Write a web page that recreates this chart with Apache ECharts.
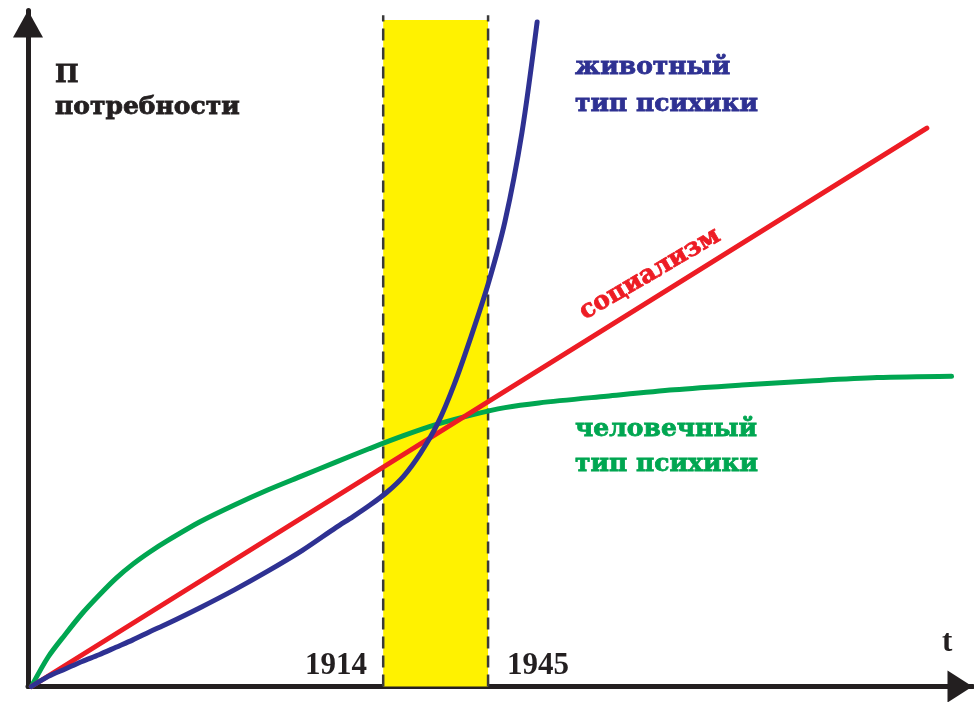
<!DOCTYPE html>
<html>
<head>
<meta charset="utf-8">
<script src="https://cdn.jsdelivr.net/npm/echarts@6/dist/echarts.min.js"></script>
<style>
html,body{margin:0;padding:0;background:#fff;}
#chart{width:974px;height:702px;}
</style>
</head>
<body>
<div id="chart"></div>
<script>
// Years (x) and need level (y, arbitrary units)
const redX = [1810, 2074.7];
const redY = [0, 82.6];

const blueX = [1810, 1815, 1820, 1825, 1830, 1835, 1840, 1845, 1850, 1860, 1870, 1880, 1890, 1900, 1905, 1910, 1915, 1920, 1925, 1930, 1935, 1940, 1945, 1950, 1955, 1959.5];
const blueY = [0, 1.5, 2.6, 3.7, 4.7, 5.8, 6.9, 8.1, 9.25, 11.7, 14.3, 17.1, 20.1, 23.5, 25.1, 26.8, 28.7, 31.1, 34.5, 38.8, 44.7, 51.8, 59.5, 68.8, 81.9, 98.3];

const greenX = [1810, 1815, 1820, 1825, 1830, 1835, 1840, 1845, 1850, 1860, 1870, 1880, 1890, 1900, 1910, 1920, 1930, 1940, 1950, 1960, 1980, 2000, 2020, 2040, 2060, 2082];
const greenY = [0, 4.4, 7.7, 10.8, 13.5, 16.0, 18.1, 19.9, 21.5, 24.4, 26.85, 29.1, 31.15, 33.2, 35.2, 37.1, 38.8, 40.15, 41.25, 41.95, 42.95, 43.9, 44.6, 45.2, 45.7, 45.9];

const periodStart = 1914;
const periodEnd = 1945;
const bandBottom = 0;
const bandTop = 98.6;
const dashTop = 99.3;

const yearLabels = ['1914', '1945'];

const zip = (xs, ys) => xs.map((x, i) => [x, ys[i]]);

const chart = echarts.init(document.getElementById('chart'), null, {renderer: 'canvas'});

const wordFont = 'bold 25px "DejaVu Serif"';
const numFont = 'bold 31px "Liberation Serif"';

function dashSeries(x) {
  return {
    type: 'line', z: 2, clip: false, silent: true, showSymbol: false,
    data: [[x, bandBottom], [x, dashTop]],
    lineStyle: {color: '#3a3a3a', width: 2.5, type: [12, 7]}
  };
}

function word(text, x, y, color) {
  return {type: 'text', z: 10, style: {text: text, x: x, y: y, font: wordFont, fill: color,
    stroke: color, lineWidth: 0.8, verticalAlign: 'middle'}};
}

const option = {
  animation: false,
  backgroundColor: '#ffffff',
  grid: {left: 28, right: 1.5, top: 10.5, bottom: 15.5, containLabel: false},
  xAxis: {
    type: 'value', min: 1809, max: 2088.2,
    axisLine: {show: true, lineStyle: {color: '#231f20', width: 5},
      symbol: ['none', 'triangle'], symbolSize: [32, 25], symbolOffset: [0, -12.5]},
    axisTick: {show: false}, axisLabel: {show: false}, splitLine: {show: false}
  },
  yAxis: {
    type: 'value', min: 0, max: 100,
    axisLine: {show: true, lineStyle: {color: '#231f20', width: 5},
      symbol: ['none', 'triangle'], symbolSize: [30, 27], symbolOffset: [0, -13.5]},
    axisTick: {show: false}, axisLabel: {show: false}, splitLine: {show: false}
  },
  series: [
    {
      type: 'line', data: [], z: 1, clip: false, silent: true,
      markArea: {
        silent: true,
        itemStyle: {color: '#fff200', opacity: 1},
        data: [[{coord: [periodStart, bandBottom]}, {coord: [periodEnd, bandTop]}]]
      }
    },
    dashSeries(periodStart),
    dashSeries(periodEnd),
    {
      name: 'человечный тип психики', type: 'line', z: 3, clip: false,
      data: zip(greenX, greenY), showSymbol: false, smooth: 0.3,
      lineStyle: {color: '#00a651', width: 5, cap: 'round'}
    },
    {
      name: 'социализм', type: 'line', z: 4, clip: false,
      data: zip(redX, redY), showSymbol: false,
      lineStyle: {color: '#ed1c24', width: 5, cap: 'round'}
    },
    {
      name: 'животный тип психики', type: 'line', z: 5, clip: false,
      data: zip(blueX, blueY), showSymbol: false, smooth: 0.3,
      lineStyle: {color: '#2e3192', width: 5, cap: 'round'}
    }
  ],
  graphic: [
    word('П', 55, 75.5, '#231f20'),
    word('потребности', 55, 107.5, '#231f20'),
    word('животный', 575, 67.5, '#2e3192'),
    word('тип психики', 575, 104.5, '#2e3192'),
    word('человечный', 575, 429.5, '#00a651'),
    word('тип психики', 575, 464.5, '#00a651'),
    {type: 'text', z: 10, x: 650, y: 274, rotation: 0.53,
      style: {text: 'социализм', x: 0, y: 0, font: wordFont, fill: '#ed1c24', stroke: '#ed1c24', lineWidth: 0.8,
        align: 'center', verticalAlign: 'middle'}},
    {type: 'text', z: 10, style: {text: yearLabels[0], x: 367, y: 665.7, font: numFont, fill: '#231f20', align: 'right', verticalAlign: 'middle'}},
    {type: 'text', z: 10, style: {text: yearLabels[1], x: 507, y: 665.7, font: numFont, fill: '#231f20', align: 'left', verticalAlign: 'middle'}},
    {type: 'text', z: 10, style: {text: 't', x: 942, y: 642.7, font: numFont, fill: '#231f20', verticalAlign: 'middle'}}
  ]
};

chart.setOption(option);
</script>
</body>
</html>
